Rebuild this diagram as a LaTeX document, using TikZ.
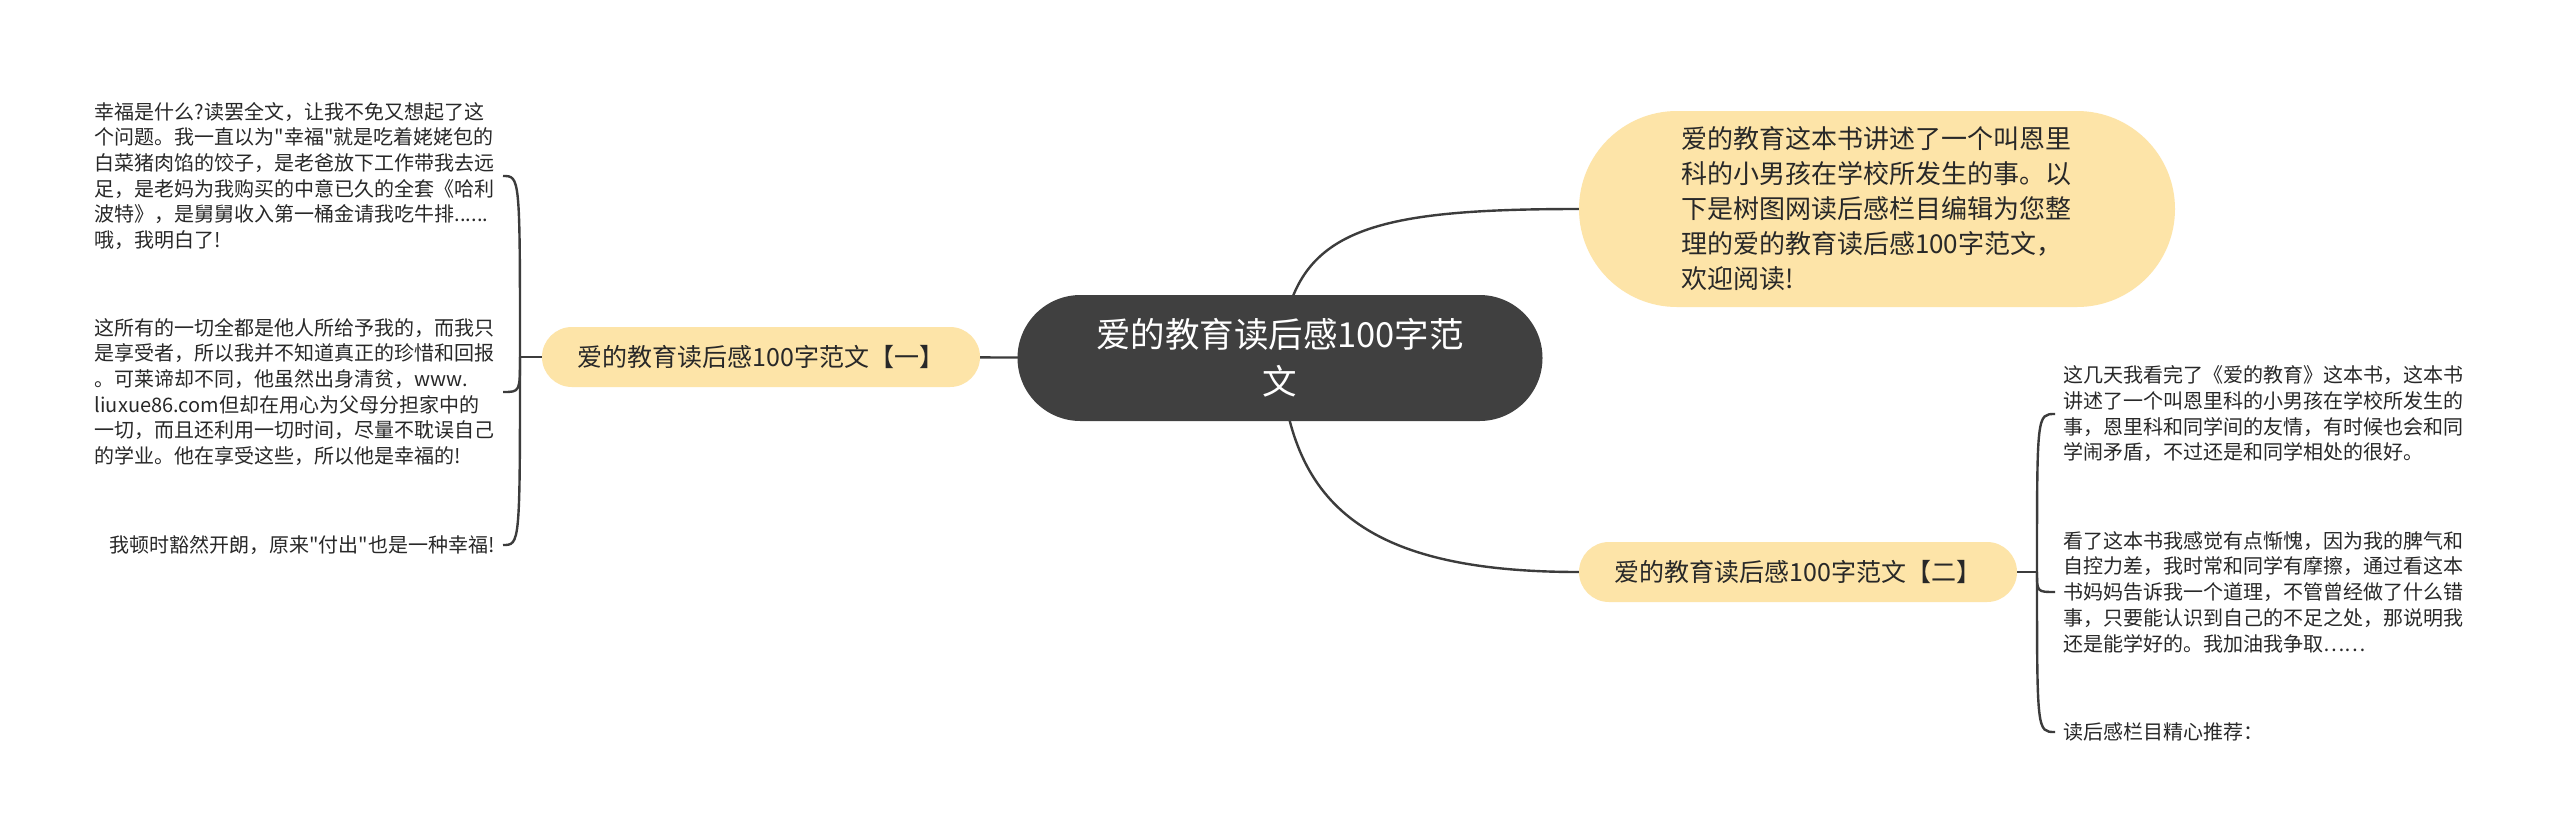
\documentclass[tikz,border=0pt]{standalone}
\usepackage{fontspec}
\setmainfont{Noto Sans CJK SC}[Ligatures=TeXOff]
\newcommand{\qt}{\char34\relax}
\definecolor{fillY}{RGB}{253,228,168}
\definecolor{darkC}{RGB}{64,64,64}
\definecolor{textC}{RGB}{40,40,40}
\definecolor{lineC}{RGB}{60,60,60}
\pgfdeclarelayer{bg}
\pgfdeclarelayer{edges}
\pgfsetlayers{bg,edges,main}
\begin{document}
\begin{tikzpicture}[x=1pt,y=-1pt,
  central/.style={rectangle, rounded corners=63pt, fill=darkC, text=white,
    minimum width=525pt, minimum height=126pt, align=center, inner sep=0pt,
    font=\fontsize{34.5}{47}\selectfont},
  topic/.style={rectangle, rounded corners=30pt, fill=fillY, text=textC,
    minimum width=438pt, minimum height=60pt, inner sep=0pt,
    font=\fontsize{25}{30}\selectfont},
  summary/.style={rectangle, rounded corners=98pt, fill=fillY, text=textC,
    minimum width=596pt, minimum height=196pt, text width=392pt, align=left,
    inner sep=0pt, font=\fontsize{26}{35}\selectfont},
  leaf/.style={text=textC, text width=400pt, align=left, inner xsep=8pt,
    inner ysep=0pt, font=\fontsize{20}{25.7}\selectfont},
  leafr/.style={text=textC, align=right, inner xsep=8pt,
    inner ysep=0pt, font=\fontsize{20}{25.7}\selectfont},
  link/.style={draw=lineC, line width=2.4pt}]
\begin{pgfonlayer}{bg}
  \fill[white] (0,0) rectangle (2560,839);
\end{pgfonlayer}
\useasboundingbox (0,0) rectangle (2560,839);

\node[central] (c) at (1280,358) {爱的教育读后感100字范\\文};
\node[summary] (s) at (1877,209) {爱的教育这本书讲述了一个叫恩里\\科的小男孩在学校所发生的事。以\\下是树图网读后感栏目编辑为您整\\理的爱的教育读后感100字范文，\\欢迎阅读!};
\node[topic] (t1) at (761,357) {爱的教育读后感100字范文【一】};
\node[topic] (t2) at (1798,572) {爱的教育读后感100字范文【二】};

\node[leaf, anchor=east] (l1) at (503,176) {幸福是什么?读罢全文，让我不免又想起了这\\个问题。我一直以为\qt 幸福\qt 就是吃着姥姥包的\\白菜猪肉馅的饺子，是老爸放下工作带我去远\\足，是老妈为我购买的中意已久的全套《哈利\\波特》，是舅舅收入第一桶金请我吃牛排......\\哦，我明白了!};
\node[leaf, anchor=east] (l2) at (503,392) {这所有的一切全都是他人所给予我的，而我只\\是享受者，所以我并不知道真正的珍惜和回报\\。可莱谛却不同，他虽然出身清贫，www.\\liuxue86.com但却在用心为父母分担家中的\\一切，而且还利用一切时间，尽量不耽误自己\\的学业。他在享受这些，所以他是幸福的!};
\node[leafr, anchor=east] (l3) at (503,545) {我顿时豁然开朗，原来\qt 付出\qt 也是一种幸福!};

\node[leaf, anchor=west] (r1) at (2055,414) {这几天我看完了《爱的教育》这本书，这本书\\讲述了一个叫恩里科的小男孩在学校所发生的\\事，恩里科和同学间的友情，有时候也会和同\\学闹矛盾，不过还是和同学相处的很好。};
\node[leaf, anchor=west] (r2) at (2055,592) {看了这本书我感觉有点惭愧，因为我的脾气和\\自控力差，我时常和同学有摩擦，通过看这本\\书妈妈告诉我一个道理，不管曾经做了什么错\\事，只要能认识到自己的不足之处，那说明我\\还是能学好的。我加油我争取……};
\node[leaf, anchor=west] (r3) at (2055,732) {读后感栏目精心推荐：};

\coordinate (lj) at (520,357);
\coordinate (rj) at (2037,572);

\begin{pgfonlayer}{edges}
  \draw[link] (c.center) -- (t1.center);
  \draw[link] (c.center) .. controls +(10,-126) and +(-220,0) .. (s.west);
  \draw[link] (c.center) .. controls +(10,142) and +(-220,0) .. (t2.west);
  \draw[link] (t1.west) -- (lj);
  \draw[link] (lj) .. controls (lj |- l1.east) .. (l1.east);
  \draw[link] (lj) .. controls (lj |- l2.east) .. (l2.east);
  \draw[link] (lj) .. controls (lj |- l3.east) .. (l3.east);
  \draw[link] (t2.east) -- (rj);
  \draw[link] (rj) .. controls (rj |- r1.west) .. (r1.west);
  \draw[link] (rj) .. controls (rj |- r2.west) .. (r2.west);
  \draw[link] (rj) .. controls (rj |- r3.west) .. (r3.west);
\end{pgfonlayer}
\end{tikzpicture}
\end{document}
